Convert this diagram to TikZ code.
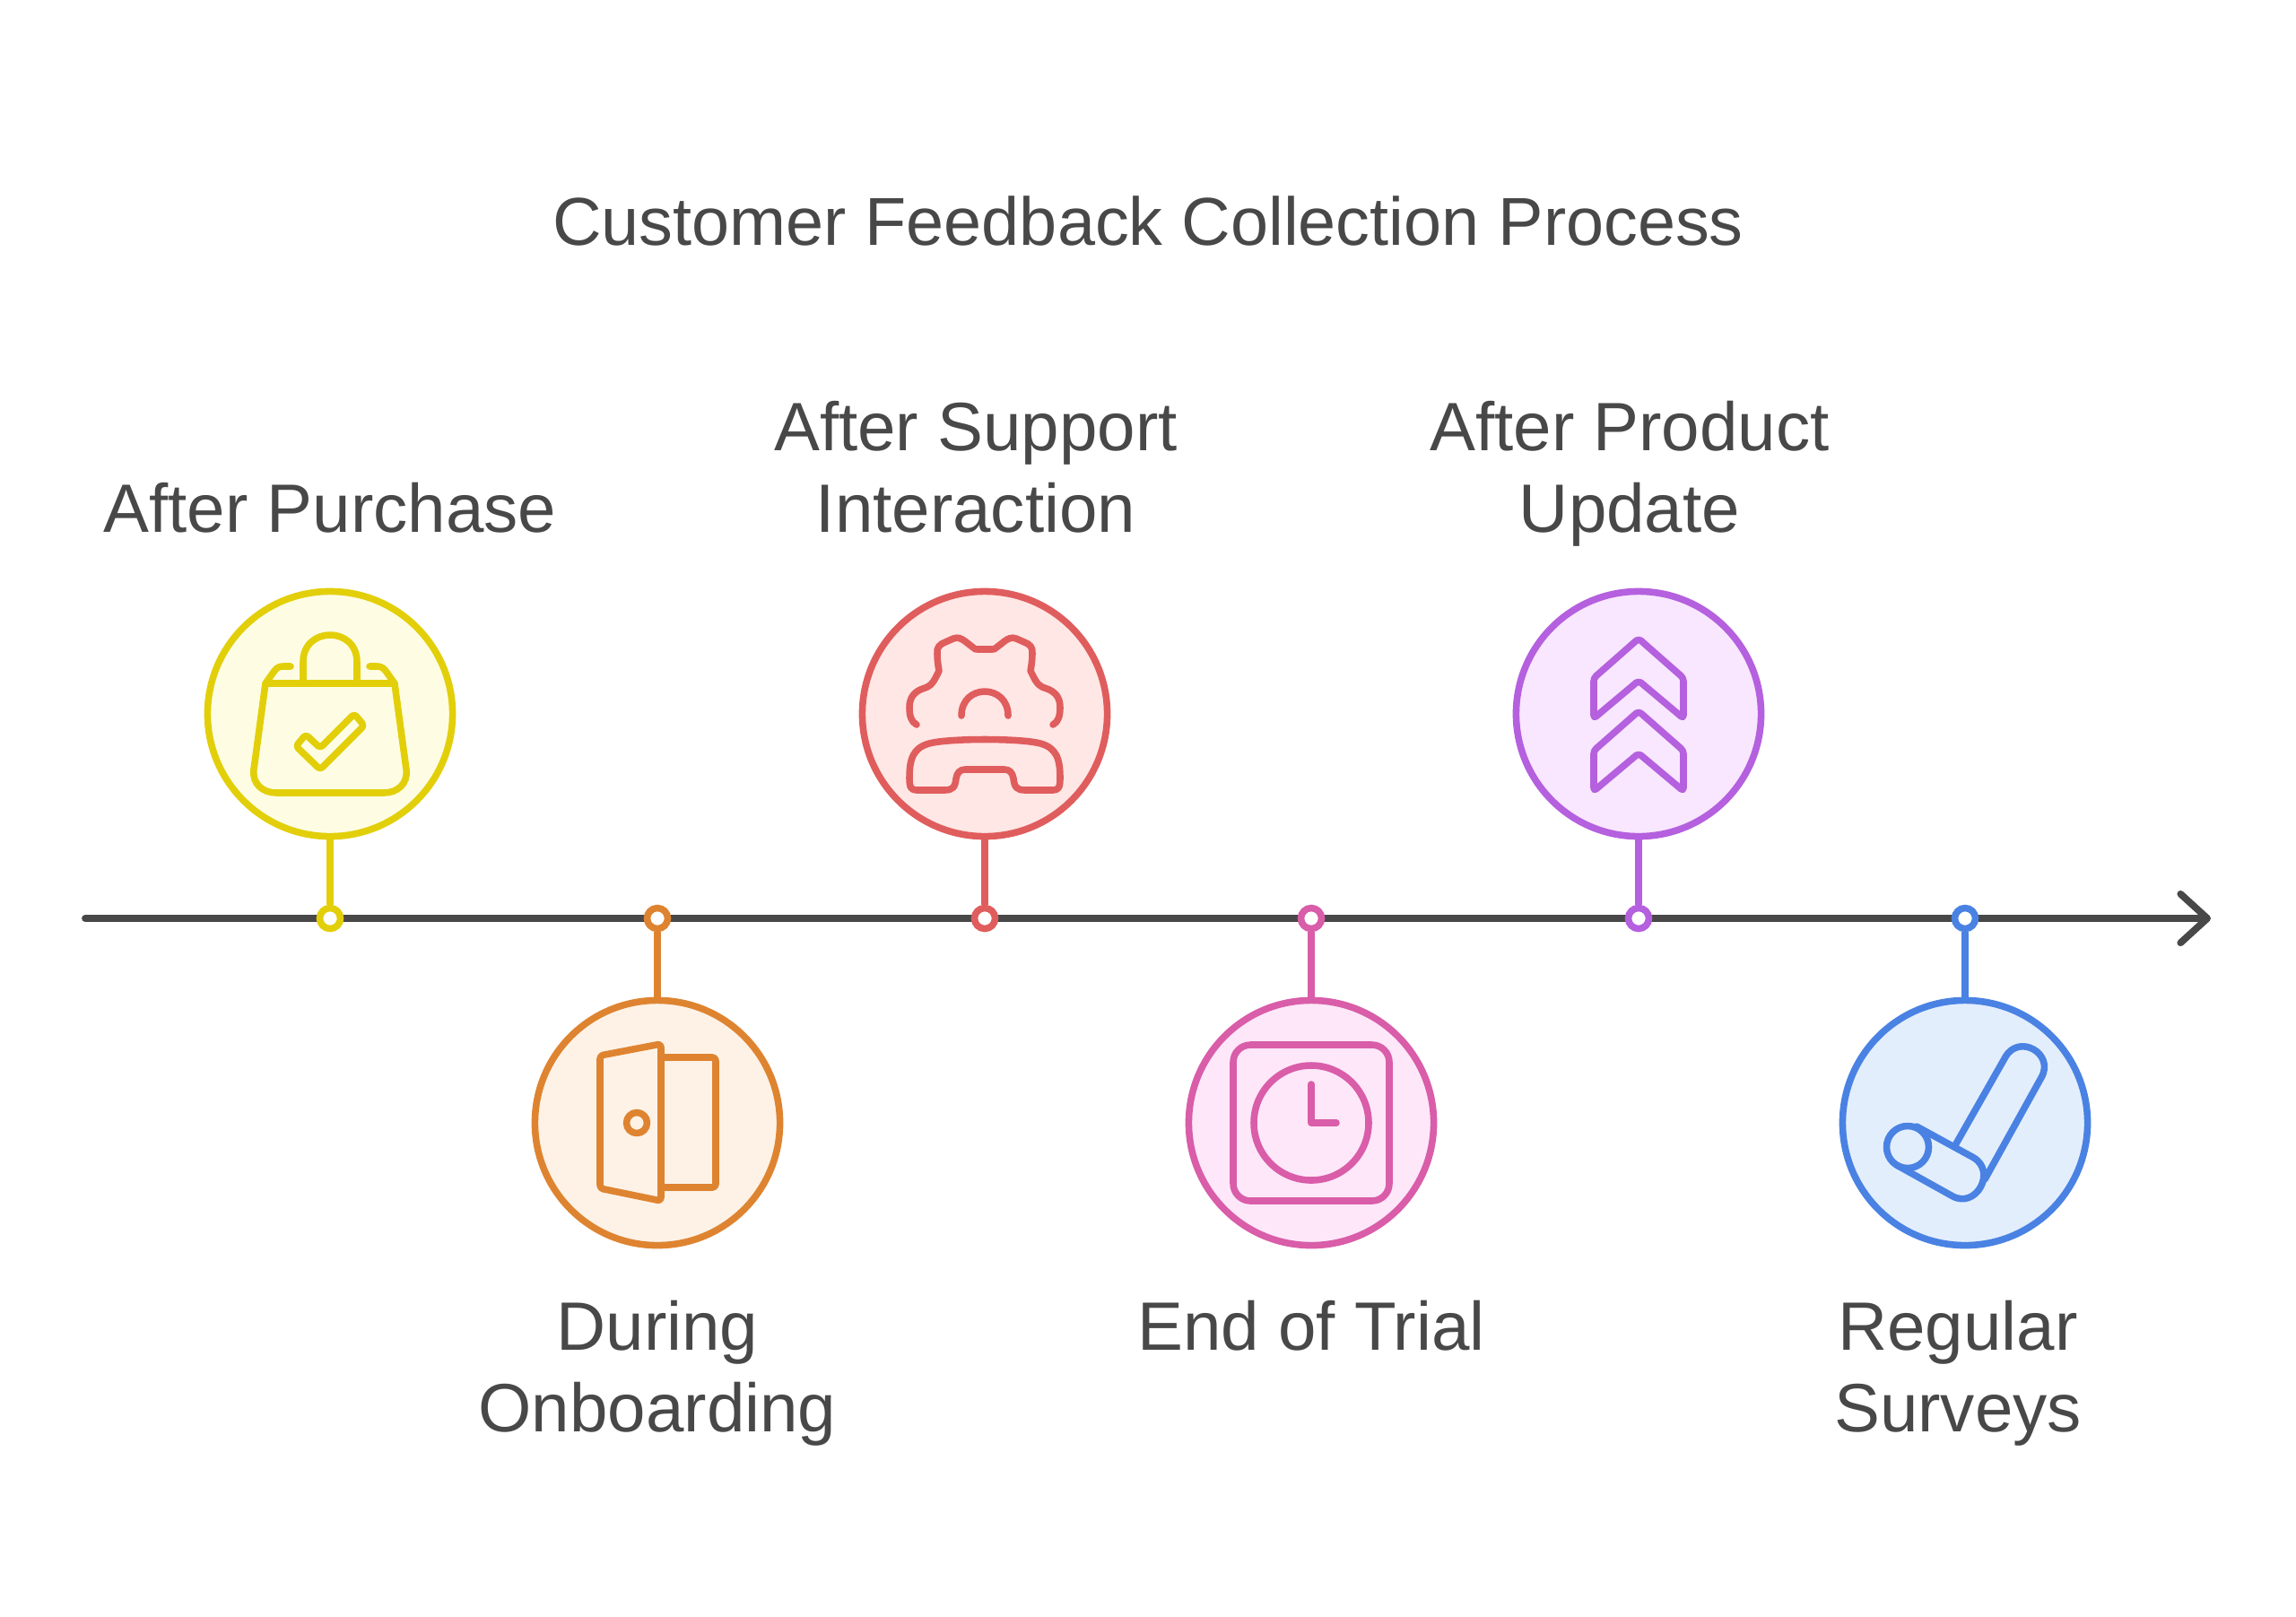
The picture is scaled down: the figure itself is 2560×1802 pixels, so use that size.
\documentclass[tikz,border=0pt]{standalone}
\usepackage{fontspec}
\usepackage{tikz}
\usetikzlibrary{shapes,arrows.meta,positioning}
\setmainfont{Liberation Sans}
\definecolor{inkgray}{HTML}{484848}
\definecolor{yellowline}{HTML}{E2CF0A}
\definecolor{yellowfill}{HTML}{FEFDE4}
\definecolor{orangeline}{HTML}{DE8431}
\definecolor{orangefill}{HTML}{FEF2E6}
\definecolor{redline}{HTML}{E05D5D}
\definecolor{redfill}{HTML}{FEE7E5}
\definecolor{pinkline}{HTML}{D95DA8}
\definecolor{pinkfill}{HTML}{FDE7F9}
\definecolor{purpleline}{HTML}{B560DE}
\definecolor{purplefill}{HTML}{F8E7FE}
\definecolor{blueline}{HTML}{4A82E3}
\definecolor{bluefill}{HTML}{E3EEFD}
\tikzset{
  bubble/.style={circle,draw=#1line,fill=#1fill,line width=2.15pt,minimum size=2.73cm,inner sep=0pt},
  tick/.style={circle,draw=#1line,fill=white,line width=2.15pt,minimum size=.23cm,inner sep=0pt},
  stem/.style={draw=#1line,line width=2.15pt},
  glyph/.style={draw=#1line,line width=2.15pt,line cap=round,line join=round},
  stagetext/.style={text=inkgray,align=center,inner sep=0pt,
    font=\fontsize{21.7}{25.9}\selectfont,
    execute at begin node=\strut,execute at end node=\strut},
}

\begin{document}
\begin{tikzpicture}[x=.01cm,y=-.01cm]
\useasboundingbox (0,0) rectangle (2560,1802);
\node[text=inkgray,font=\fontsize{21.5}{26}\selectfont] (title) at (1280,246)
  {Customer Feedback Collection Process};

\coordinate (axisstart) at (95,1024);
\coordinate (axisend) at (2465,1024);
\draw[draw=inkgray,line width=2.2pt,line cap=round,
  -{Straight Barb[round,length=8.5pt,width=15.5pt]}] (axisstart) -- (axisend);

\node[tick=yellow] (t1) at (368,1024) {};
\node[tick=orange] (t2) at (733,1024) {};
\node[tick=red] (t3) at (1098,1024) {};
\node[tick=pink] (t4) at (1462,1024) {};
\node[tick=purple] (t5) at (1827,1024) {};
\node[tick=blue] (t6) at (2191,1024) {};

\node[bubble=yellow] (c1) at (368,796) {};
\node[bubble=orange] (c2) at (733,1252) {};
\node[bubble=red] (c3) at (1098,796) {};
\node[bubble=pink] (c4) at (1462,1252) {};
\node[bubble=purple] (c5) at (1827,796) {};
\node[bubble=blue] (c6) at (2191,1252) {};

\draw[stem=yellow] (t1) -- (c1);
\draw[stem=orange] (t2) -- (c2);
\draw[stem=red] (t3) -- (c3);
\draw[stem=pink] (t4) -- (c4);
\draw[stem=purple] (t5) -- (c5);
\draw[stem=blue] (t6) -- (c6);

\node[stagetext,above=.34cm of c1] (l1) {After Purchase};
\node[stagetext,below=.57cm of c2] (l2) {During\\Onboarding};
\node[stagetext,above=.34cm of c3,xshift=-.1cm] (l3) {After Support\\Interaction};
\node[stagetext,below=.49cm of c4] (l4) {End of Trial};
\node[stagetext,above=.34cm of c5,xshift=-.1cm] (l5) {After Product\\Update};
\node[stagetext,below=.57cm of c6,xshift=-.08cm] (l6) {Regular\\Surveys};

% bag
\begin{scope}[shift={(c1)},glyph=yellow]
\draw (-30,-34) -- (-30,-58) .. controls (-30,-98) and (30,-98) .. (30,-58) -- (30,-34);
\draw (-72,-34) -- (72,-34) -- (85,62) .. controls (87,78) and (75,88) .. (60,88)
  -- (-60,88) .. controls (-75,88) and (-87,78) .. (-85,62) -- cycle;
\draw (-72,-34) -- (-62,-48) .. controls (-59,-52) and (-56,-53) .. (-52,-53) -- (-44,-53);
\draw (72,-34) -- (62,-48) .. controls (59,-52) and (56,-53) .. (52,-53) -- (44,-53);
\draw[rounded corners=1pt] (-27,23) -- (-11,38) -- (27,0) -- (38,13) -- (-11,62) -- (-38,36) -- cycle;
\end{scope}

% door
\begin{scope}[shift={(c2)},glyph=orange]
\draw[rounded corners=1pt] (-64,-75) -- (4,-88) -- (4,87) -- (-64,73) -- cycle;
\draw[rounded corners=1pt] (4,-73) -- (65,-73) -- (65,72) -- (4,72);
\draw (-23,0) circle[radius=11.5];
\end{scope}

% gear and phone
\begin{scope}[shift={(c3)},glyph=red]
\foreach \side in {1,-1} {
\draw[xscale=\side] (-76,12) .. controls (-82,9) and (-84,2) .. (-84,-7)
  .. controls (-84,-17) and (-80,-23) .. (-72,-27) -- (-64,-30)
  .. controls (-58,-33) and (-56,-38) .. (-51,-48)
  .. controls (-52,-54) and (-53,-60) .. (-53,-67)
  .. controls (-54,-74) and (-50,-78) .. (-44,-80) -- (-35,-84)
  .. controls (-30,-86) and (-26,-84) .. (-22,-81) -- (-13,-74)
  .. controls (-11,-72) and (-10,-72) .. (-8,-72) -- (0,-72);
}
\draw (-26,2) .. controls (-26,-34) and (26,-34) .. (26,2);
\draw (-84,72) .. controls (-84,50) and (-80,38) .. (-62,33) .. controls (-40,27) and (40,27) .. (62,33)
  .. controls (80,38) and (84,50) .. (84,72) .. controls (84,82) and (82,85) .. (76,85) -- (45,85)
  .. controls (36,85) and (33,82) .. (32,72) .. controls (31,66) and (28,62) .. (22,62) -- (-22,62)
  .. controls (-28,62) and (-31,66) .. (-32,72) .. controls (-33,82) and (-36,85) .. (-45,85) -- (-76,85)
  .. controls (-82,85) and (-84,82) .. (-84,72) -- cycle;
\end{scope}

% clock
\begin{scope}[shift={(c4)},glyph=pink]
\draw[rounded corners=5.5pt] (-87,-87) rectangle (87,87);
\draw (0,0) circle[radius=64];
\draw (0,-43) -- (0,0) -- (28,0);
\end{scope}

% chevrons
\begin{scope}[shift={(c5)},glyph=purple]
\draw[rounded corners=1pt] (0,-84) -- (50,-40) -- (50,5) -- (0,-37) -- (-50,5) -- (-50,-40) -- cycle;
\draw[rounded corners=1pt] (0,-3) -- (50,41) -- (50,86) -- (0,44) -- (-50,86) -- (-50,41) -- cycle;
\end{scope}

% roller
\begin{scope}[shift={(c6)},glyph=blue]
\draw (-64,27) circle[radius=23.5];
\draw (-54,4) -- (9,38.5) .. controls (36,54) and (12,97) .. (-14.75,81.35) -- (-75.75,47.35);
\draw (-11,25) -- (45,-73.5) .. controls (60.3,-100) and (100.3,-77) .. (85,-50.5) -- (22,63);
\end{scope}
\end{tikzpicture}
\end{document}
